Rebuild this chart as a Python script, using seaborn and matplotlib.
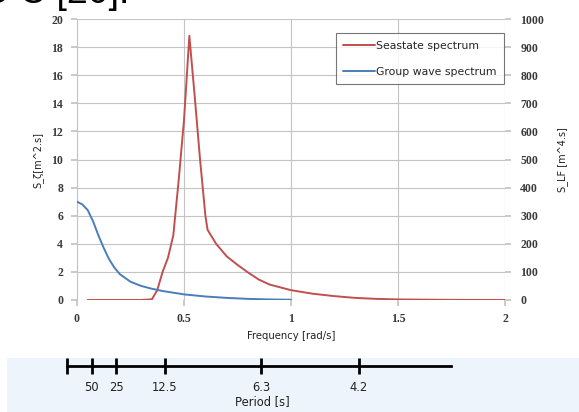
import numpy as np
import pandas as pd
import matplotlib
matplotlib.use("Agg")
import matplotlib.pyplot as plt
import seaborn as sns
from matplotlib.lines import Line2D

# ---- data ----
sea_freq = [0.05, 0.30, 0.35, 0.375, 0.40, 0.425, 0.45, 0.475, 0.50, 0.525, 0.55, 0.575,
            0.60, 0.61, 0.65, 0.70, 0.75, 0.80, 0.85, 0.90, 0.95, 1.0, 1.1, 1.2, 1.3,
            1.4, 1.5, 1.75, 2.0]
sea_val = [0.0, 0.0, 0.05, 0.7, 2.0, 3.0, 4.6, 8.5, 12.8, 18.8, 14.5, 10.0,
           6.0, 5.0, 4.0, 3.1, 2.5, 1.95, 1.45, 1.1, 0.9, 0.7, 0.45, 0.28, 0.15,
           0.08, 0.04, 0.01, 0.0]
grp_freq = [0.0, 0.025, 0.05, 0.075, 0.10, 0.125, 0.15, 0.175, 0.20, 0.25, 0.30, 0.35,
            0.40, 0.50, 0.60, 0.70, 0.80, 0.90, 1.0]
grp_val = [350, 340, 320, 280, 230, 185, 145, 115, 92, 65, 50, 40,
           32, 20, 12.5, 7.5, 4, 2, 1]
left_ticks = [0, 2, 4, 6, 8, 10, 12, 14, 16, 18, 20]
right_ticks = [0, 100, 200, 300, 400, 500, 600, 700, 800, 900, 1000]
freq_ticks = [0, 0.5, 1, 1.5, 2]
freq_labels = ["0", "0.5", "1", "1.5", "2"]
periods = [50, 25, 12.5, 6.3, 4.2]
period_labels = ["50", "25", "12.5", "6.3", "4.2"]

RED = "#c0504d"
BLUE = "#4a7ebb"
GRID = "#c4c4c4"

sns.set_theme(style="white")
plt.rcParams["font.family"] = ["DejaVu Sans"]

W, H = 579, 412
fig = plt.figure(figsize=(W / 100, H / 100), dpi=100)

def fx(px):
    return px / W

def fy(py):
    return 1 - py / H

# light blue band at bottom
band = matplotlib.patches.Rectangle((fx(7), 0), 1, fy(358), transform=fig.transFigure,
                                    facecolor="#edf4fb", edgecolor="none", zorder=-5)
fig.patches.append(band)

# clipped text at the top (fragment of the surrounding document)
fig.text(fx(129), fy(3), "r C C [20].", fontsize=27, color="black", va="baseline", ha="right",
         family=["Liberation Sans"])

# ---- main chart ----
L, R, T, B = 77, 505, 19, 300
ax = fig.add_axes([fx(L), fy(B), fx(R) - fx(L), fy(T) - fy(B)])
ax.set_facecolor("none")
sea_df = pd.DataFrame({"freq": sea_freq, "val": sea_val})
grp_df = pd.DataFrame({"freq": grp_freq, "val": grp_val})
sns.lineplot(data=sea_df, x="freq", y="val", ax=ax, color=RED, linewidth=1.4, zorder=3)
ax.set_xlim(0, 2)
ax.set_ylim(0, 20)
ax.set_yticks(left_ticks)
ax.set_xticks(freq_ticks)
ax.set_xticklabels(freq_labels)
ax.grid(True, color=GRID, linewidth=0.8)
for s in ["top", "right", "bottom"]:
    ax.spines[s].set_visible(False)
ax.spines["left"].set_color(GRID)
ax.spines["left"].set_linewidth(0.8)
ax.tick_params(axis="y", left=True, length=4, color=GRID, labelsize=8.5, pad=6, labelcolor="#3a3a3a")
ax.tick_params(axis="x", bottom=True, length=4, color=GRID, labelsize=8.5, pad=5, labelcolor="#3a3a3a")
for lab in ax.get_xticklabels() + ax.get_yticklabels():
    lab.set_family(["Liberation Serif"])
    lab.set_fontweight("bold")
ax.set_xlabel("Frequency [rad/s]", fontsize=7.3, labelpad=5, color="#222222")
ax.set_ylabel("S_ζ[m^2.s]", fontsize=7, labelpad=6, color="#222222")

ax2 = ax.twinx()
sns.lineplot(data=grp_df, x="freq", y="val", ax=ax2, color=BLUE, linewidth=1.4, zorder=3)
ax2.set_ylim(0, 1000)
ax2.set_yticks(right_ticks)
for s in ["top", "left", "bottom", "right"]:
    ax2.spines[s].set_visible(False)
ax2.tick_params(axis="y", right=True, length=4, color=GRID, labelsize=8.5, pad=7, labelcolor="#3a3a3a")
for lab in ax2.get_yticklabels():
    lab.set_family(["Liberation Serif"])
    lab.set_fontweight("bold")
ax2.set_ylabel("S_LF [m^4.s]", fontsize=7, labelpad=9, color="#222222")

handles = [Line2D([], [], color=RED, linewidth=1.4), Line2D([], [], color=BLUE, linewidth=1.4)]
leg = ax2.legend(handles, ["Seastate spectrum", "Group wave spectrum"], loc="upper right",
                 bbox_to_anchor=(0.997, 0.95), fontsize=7.8, frameon=True, fancybox=False,
                 handlelength=2.9, handletextpad=0.1, borderpad=0.7, labelspacing=1.5,
                 borderaxespad=0.0)
leg.get_frame().set_edgecolor("#555555")
leg.get_frame().set_linewidth(0.8)

# ---- period axis ----
P0, P1 = 67, 457
pax = fig.add_axes([fx(P0), fy(366), fx(P1) - fx(P0), 0.05])
pax.set_facecolor("none")
pax.set_xlim(0, 2)
pax.set_ylim(0, 1)
pax.set_yticks([])
for s in ["top", "left", "right"]:
    pax.spines[s].set_visible(False)
pax.spines["bottom"].set_color("black")
pax.spines["bottom"].set_linewidth(2)
pax.spines["bottom"].set_bounds(0, 1.97)
ptick = [0.0] + [2 * np.pi / p for p in periods]
pax.set_xticks(ptick)
pax.set_xticklabels([""] + period_labels)
pax.tick_params(axis="x", bottom=True, direction="inout", length=11, width=2, color="black",
                labelsize=8.3, pad=5, labelcolor="#222222")
pax.set_xlabel("Period [s]", fontsize=8.3, labelpad=1, color="#222222")

fig.savefig("out.png", dpi=100)
